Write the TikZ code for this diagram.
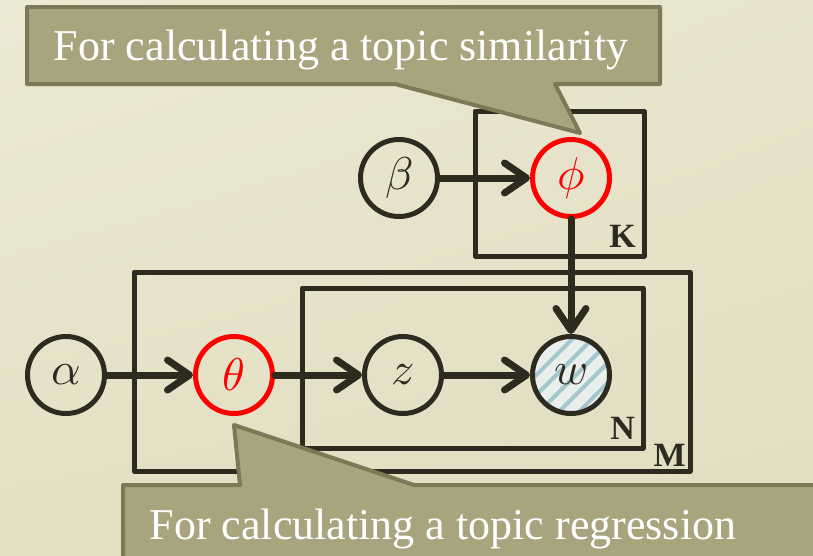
\documentclass[tikz,border=0pt]{standalone}
\usepackage{amsmath,amssymb}
\usepackage{fontspec}
\usepackage{unicode-math}
\setmainfont{Liberation Serif}
\setmathfont{Latin Modern Math}
\usetikzlibrary{arrows.meta,positioning,calc,patterns.meta,shadings}
\definecolor{PaperLight}{RGB}{236,233,212}
\definecolor{PaperDark}{RGB}{225,221,192}
\definecolor{InkDark}{RGB}{45,42,32}
\definecolor{CalloutFill}{RGB}{168,165,126}
\definecolor{CalloutEdge}{RGB}{123,121,88}
\definecolor{HatchBlue}{RGB}{163,199,204}
\definecolor{HatchBack}{RGB}{234,239,237}

\begin{document}
\begin{tikzpicture}[x=1pt,y=-1pt,
    var/.style={circle,draw=InkDark,line width=5pt,minimum size=77pt,inner sep=0pt,
      font=\fontsize{46}{46}\selectfont,text=InkDark},
    param/.style={var,draw=red,text=red},
    obs/.style={var,preaction={fill=HatchBack},
      preaction={pattern={Lines[angle=45,distance=14pt,line width=4pt]},pattern color=HatchBlue}},
    edge/.style={line width=7pt,draw=InkDark,line cap=round,
      -{Straight Barb[length=22pt,width=30pt,line width=7pt,round]}},
    plate/.style={line width=5pt,draw=InkDark,line join=round},
    platelabel/.style={anchor=south east,inner sep=8pt,text=InkDark,
      font=\fontsize{34}{34}\selectfont\bfseries},
    callout/.style={fill=CalloutFill,draw=CalloutEdge,line width=4pt,line join=round},
    callouttext/.style={text=white,font=\fontsize{44}{44}\selectfont,anchor=base}]
  \useasboundingbox (0,0) rectangle (813,555);
  \shade[upper left=PaperLight,upper right=PaperLight!60!PaperDark,
    lower left=PaperDark!80!PaperLight,lower right=PaperDark] (0,0) rectangle (813,555);

  % plates
  \draw[plate] (475,111) rectangle (644,256);
  \draw[plate] (134,272) rectangle (690,471);
  \draw[plate] (302,288) rectangle (643,448);
  \node[platelabel] at (644,256) {K};
  \node[platelabel] at (643,448) {N};
  \node[platelabel,inner sep=4pt] at (690,471) {M};

  % variables
  \node[var]   (alpha) at (66,375)  {$\alpha$};
  \node[param] (theta) at (234,375) {$\theta$};
  \node[var]   (z)     at (403,375) {$z$};
  \node[obs]   (w)     at (571,375) {$w$};
  \node[var]   (beta)  at (399,178) {$\beta$};
  \node[param] (phi)   at (571,178) {$\phi$};

  \draw[edge] (alpha) -- (theta);
  \draw[edge] (theta) -- (z);
  \draw[edge] (z) -- (w);
  \draw[edge] (beta) -- (phi);
  \draw[edge] (phi) -- (w);

  % callouts
  \draw[callout] (27,7) -- (660,7) -- (660,84) -- (555,84) -- (580,133)
    -- (395,84) -- (27,84) -- cycle;
  \draw[callout] (123,485) -- (240,485) -- (234,425) -- (414,485)
    -- (830,485) -- (830,580) -- (123,580) -- cycle;
  \node[callouttext] (simtext) at (341,60) {For calculating a topic similarity};
  \node[callouttext] (regtext) at (443,539) {For calculating a topic regression};
\end{tikzpicture}
\end{document}
